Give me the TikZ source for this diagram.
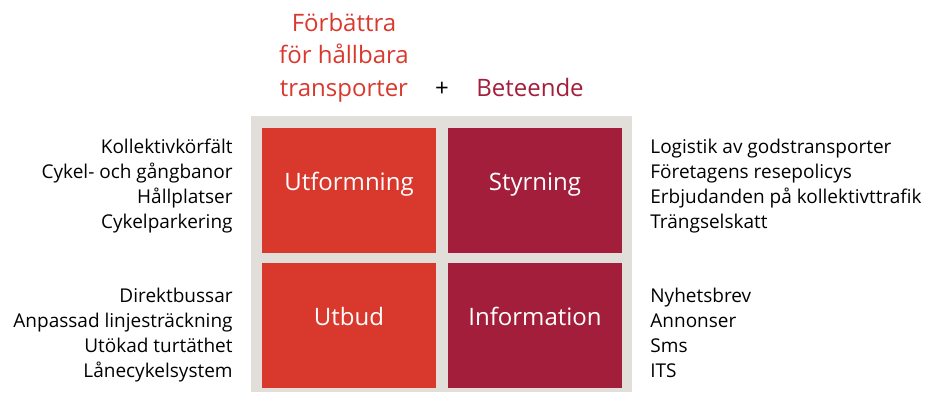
\documentclass[tikz,border=0pt]{standalone}
\usepackage{fontspec}
\setmainfont{Open Sans}
\usetikzlibrary{matrix,positioning}
\definecolor{rod}{HTML}{D9382D}
\definecolor{vin}{HTML}{A31E3B}
\definecolor{grabg}{HTML}{E2DFDA}
\newcommand{\lst}{\fontsize{19}{25}\selectfont}
\newcommand{\hdr}{\fontsize{24}{32.5}\selectfont}

\begin{document}
\begin{tikzpicture}[x=1pt,y=1pt,
  cell/.style={minimum width=174pt,minimum height=125pt,inner sep=0pt,
    text height=12pt,text depth=12pt,text=white,font=\fontsize{24}{28}\selectfont},
  lista/.style={font=\lst,inner sep=0pt},
  rubrik/.style={font=\hdr,inner sep=0pt}]
\useasboundingbox (0,0) rectangle (925,-392);
\fill[grabg] (251,-116) rectangle (632,-392);
\matrix[matrix of nodes, name=m, inner sep=0pt, column sep=12pt, row sep=10pt, nodes={cell}] at (442,-257.5)
{ |[fill=rod]| Utformning & |[fill=vin]| Styrning \\
  |[fill=rod]| Utbud & |[fill=vin]| Information \\
};
\node[rubrik, text=rod, align=center, anchor=base] (forb)
  at ([xshift=-5pt,yshift=31pt]m-1-1.north) {Förbättra\\för hållbara\\transporter};
\node[rubrik, text=vin, anchor=base] (bet)
  at ([xshift=-5pt,yshift=31pt]m-1-2.north) {Beteende};
\node[rubrik, anchor=base] (plus) at ([yshift=31pt]m.north) {+};
\node[lista, align=right, anchor=base east] (utf)
  at ([xshift=-29pt,yshift=-101pt]m-1-1.north west) {Kollektivkörfält\\Cykel- och gångbanor\\Hållplatser\\Cykelparkering};
\node[lista, align=left, anchor=base west] (sty)
  at ([xshift=28pt,yshift=-101pt]m-1-2.north east) {Logistik av godstransporter\\Företagens resepolicys\\Erbjudanden på kollektivttrafik\\Trängselskatt};
\node[lista, align=right, anchor=base east] (utb)
  at ([xshift=-29pt,yshift=-115pt]m-2-1.north west) {Direktbussar\\Anpassad linjesträckning\\Utökad turtäthet\\Lånecykelsystem};
\node[lista, align=left, anchor=base west] (inf)
  at ([xshift=28pt,yshift=-115pt]m-2-2.north east) {Nyhetsbrev\\Annonser\\Sms\\ITS};
\end{tikzpicture}
\end{document}
